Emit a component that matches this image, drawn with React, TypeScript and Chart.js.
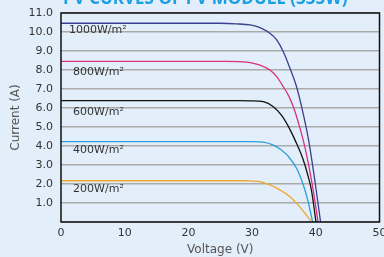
import React, { useEffect, useRef } from "react";
import { Chart, registerables } from "chart.js";

Chart.register(...registerables);

const TITLE = "PV CURVES OF PV MODULE (335W)";
const X_TITLE = "Voltage (V)";
const Y_TITLE = "Current (A)";

const irradianceLabels = ["1000W/m²", "800W/m²", "600W/m²", "400W/m²", "200W/m²"];
const labelX = [1.25, 1.9, 1.9, 1.9, 1.9];
const labelY = [10.1, 7.9, 5.8, 3.8, 1.75];

const v1000 = [0, 25, 27.5, 29.7, 31.24, 32.8, 33.86, 34.9, 35.95, 36.9, 37.75, 38.85, 39.8, 40.75];
const i1000 = [10.46, 10.46, 10.43, 10.37, 10.23, 9.93, 9.58, 8.96, 8.09, 7.21, 6.1, 4.35, 2.3, 0];

const v800 = [0, 26, 28.5, 29.7, 31.24, 32.8, 33.86, 34.9, 35.8, 36.6, 37.5, 38.35, 39.45, 40.35];
const i800 = [8.45, 8.45, 8.43, 8.39, 8.26, 8.0, 7.65, 7.12, 6.6, 5.95, 4.95, 3.85, 1.95, 0];

const v600 = [0, 28, 29.7, 31.76, 33.33, 34.6, 35.65, 36.8, 38.0, 38.8, 39.3, 40.03];
const i600 = [6.39, 6.39, 6.38, 6.33, 6.07, 5.63, 5.06, 4.27, 3.3, 2.4, 1.7, 0];

const v400 = [0, 30, 31.76, 33.33, 34.6, 35.7, 37.0, 38.04, 38.8, 39.35, 39.5];
const i400 = [4.23, 4.23, 4.2, 4.05, 3.79, 3.45, 2.82, 1.95, 1.07, 0.24, 0];

const v200 = [0, 29, 29.67, 31.24, 32.8, 34.4, 35.95, 37.25, 38.3, 39.35];
const i200 = [2.17, 2.17, 2.16, 2.12, 1.95, 1.68, 1.33, 0.89, 0.46, 0];

const seriesColors = ["#3b3f8f", "#d9307f", "#111111", "#2a9fd9", "#f0a830"];

const toPoints = (xs: number[], ys: number[]) => xs.map((x, k) => ({ x, y: ys[k] }));

export default function App() {
  const ref = useRef<HTMLCanvasElement>(null);
  useEffect(() => {
    document.body.style.margin = "0";
    document.body.style.background = "#e2eef9";
    const canvas = ref.current!;
    const bgPlugin = {
      id: "bg",
      beforeDraw(chart: any) {
        const { ctx, width, height } = chart;
        ctx.save();
        ctx.fillStyle = "#e2eef9";
        ctx.fillRect(0, 0, width, height);
        ctx.restore();
      },
      afterDraw(chart: any) {
        const { ctx, chartArea } = chart;
        const xs = chart.scales.x;
        const ys = chart.scales.y;
        ctx.save();
        ctx.strokeStyle = "#111";
        ctx.lineWidth = 1.5;
        ctx.strokeRect(chartArea.left, chartArea.top, chartArea.right - chartArea.left, chartArea.bottom - chartArea.top);
        ctx.fillStyle = "#333";
        ctx.font = '11px "DejaVu Sans"';
        ctx.textBaseline = "middle";
        ctx.textAlign = "left";
        irradianceLabels.forEach((t, k) => {
          ctx.fillText(t, xs.getPixelForValue(labelX[k]), ys.getPixelForValue(labelY[k]));
        });
        ctx.fillStyle = "#1c9fe2";
        ctx.font = 'bold 17px "Open Sans"';
        ctx.textBaseline = "alphabetic";
        ctx.fillText(TITLE, 63, 4);
        ctx.restore();
      },
    };
    const mk = (label: string, xs: number[], ys: number[], c: string) => ({
      label,
      data: toPoints(xs, ys),
      borderColor: c,
      backgroundColor: c,
      borderWidth: 1.3,
      pointRadius: 0,
      showLine: true,
      cubicInterpolationMode: "monotone" as const,
      fill: false,
    });
    const chart = new Chart(canvas, {
      type: "scatter",
      data: {
        datasets: [
          mk("1000", v1000, i1000, seriesColors[0]),
          mk("800", v800, i800, seriesColors[1]),
          mk("600", v600, i600, seriesColors[2]),
          mk("400", v400, i400, seriesColors[3]),
          mk("200", v200, i200, seriesColors[4]),
        ],
      },
      options: {
        responsive: false,
        animation: false,
        layout: { padding: { top: 13, right: 4.5, left: 0, bottom: 0 } },
        plugins: { legend: { display: false }, tooltip: { enabled: false }, title: { display: false } },
        scales: {
          x: {
            type: "linear",
            min: 0,
            max: 50,
            ticks: { stepSize: 10, color: "#333", font: { size: 11, family: "DejaVu Sans" }, padding: 5 },
            grid: { display: false, drawTicks: false },
            border: { display: false },
            title: { display: true, text: X_TITLE, color: "#555", font: { size: 12, family: "DejaVu Sans" }, padding: { top: 0, bottom: 0 } },
            afterFit: (s: any) => { s.height = 35; s.paddingRight = 0; s.paddingLeft = 0; },
          },
          y: {
            type: "linear",
            min: 0,
            max: 11,
            ticks: {
              stepSize: 1,
              color: "#333",
              font: { size: 11, family: "DejaVu Sans" },
              padding: 8,
              callback: (v: any) => (v === 0 ? "" : Number(v).toFixed(1)),
            },
            grid: { color: "#aaaaaa", lineWidth: 1.5, drawTicks: false },
            border: { display: false },
            title: { display: true, text: Y_TITLE, color: "#555", font: { size: 12, family: "DejaVu Sans" }, padding: { top: 9, bottom: 0 } },
            afterFit: (s: any) => { s.width = 61; s.paddingTop = 0; s.paddingBottom = 0; },
          },
        },
      },
      plugins: [bgPlugin],
    });
    return () => chart.destroy();
  }, []);
  return <canvas ref={ref} width={384} height={257} style={{ display: "block" }} />;
}
